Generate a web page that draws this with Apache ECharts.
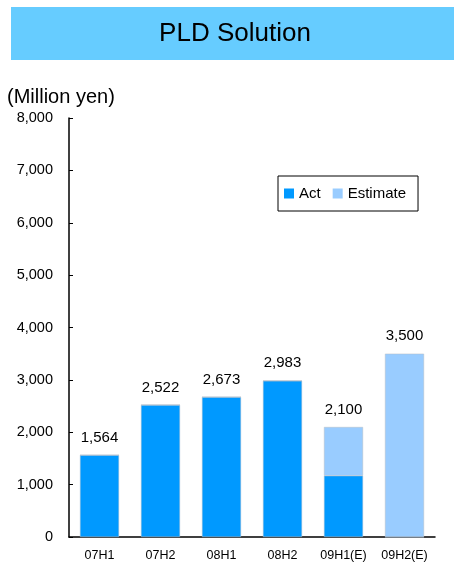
<!DOCTYPE html>
<html><head><meta charset="utf-8">
<script src="https://cdn.jsdelivr.net/npm/echarts@6/dist/echarts.min.js"></script>
<style>html,body{margin:0;padding:0;background:#fff}#c{width:454px;height:568px}</style>
</head><body><div id="c"></div>
<script>
var categories = ['07H1','07H2','08H1','08H2','09H1(E)','09H2(E)'];
var actValues = [1564, 2522, 2673, 2983, 1170, 0];
var estimateValues = [0, 0, 0, 0, 930, 3500];
var totalLabels = ['1,564','2,522','2,673','2,983','2,100','3,500'];
var yTicks = [0,1000,2000,3000,4000,5000,6000,7000,8000];

var chart = echarts.init(document.getElementById('c'));
var FONT = 'Liberation Sans, Arial, sans-serif';
function topIsEst(i){ return estimateValues[i] > 0; }
var actData = actValues.map(function(v,i){
  return {value: v, label: {show: !topIsEst(i), formatter: totalLabels[i]}};
});
var estData = estimateValues.map(function(v,i){
  return {value: v, label: {show: topIsEst(i), formatter: totalLabels[i]}};
});
var lbl = {position:'top', distance:10, color:'#000', fontSize:15, fontFamily:FONT};
chart.setOption({
  animation:false,
  textStyle:{fontFamily:FONT},
  graphic:[
    {type:'rect', shape:{x:11,y:7,width:443,height:53}, style:{fill:'#66CCFF'}},
    {type:'text', x:235, y:34, style:{text:'PLD Solution', fontSize:26, fontFamily:FONT, fill:'#000', textAlign:'center', textVerticalAlign:'middle'}},
    {type:'text', x:7, y:97, style:{text:'(Million yen)', fontSize:20, fontFamily:FONT, fill:'#000', textVerticalAlign:'middle'}}
  ],
  legend:{
    left:278, top:176, orient:'horizontal',
    borderColor:'#000', borderWidth:1, padding:[10,12,10,6],
    itemWidth:10, itemHeight:10, itemGap:12,
    itemStyle:{borderWidth:0},
    textStyle:{fontSize:15, color:'#000', fontFamily:FONT, padding:[0,0,0,0]},
    data:[{name:'Act', icon:'rect'},{name:'Estimate', icon:'rect'}]
  },
  grid:{left:69, right:19, top:118, bottom:31, containLabel:false},
  xAxis:{
    type:'category', data:categories,
    axisLine:{lineStyle:{color:'#000', width:1.5}},
    axisTick:{inside:true, length:4, lineStyle:{color:'#000'}},
    axisLabel:{color:'#000', fontSize:12.5, margin:12, fontFamily:FONT}
  },
  yAxis:{
    type:'value', min:0, max:8000, interval:1000,
    axisLine:{show:true, lineStyle:{color:'#000', width:1.5}},
    axisTick:{show:true, inside:true, length:4, lineStyle:{color:'#000'}},
    splitLine:{show:false},
    axisLabel:{color:'#000', fontSize:14.5, margin:16, fontFamily:FONT,
      formatter:function(v){return v.toLocaleString('en-US');}}
  },
  series:[
    {name:'Act', type:'bar', stack:'s', data:actData, barWidth:'64%',
     itemStyle:{color:'#0099FF', borderColor:'#a9bfd2', borderWidth:0.5}, label:lbl},
    {name:'Estimate', type:'bar', stack:'s', data:estData, barWidth:'64%',
     itemStyle:{color:'#99CCFF', borderColor:'#b4bcc4', borderWidth:0.5}, label:lbl}
  ]
});
</script></body></html>
